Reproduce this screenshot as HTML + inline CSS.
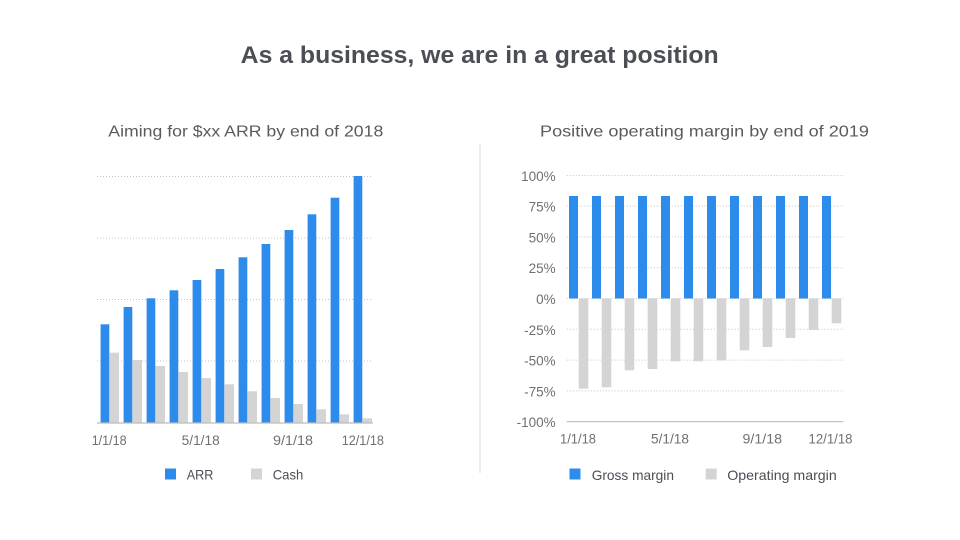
<!DOCTYPE html>
<html><head><meta charset="utf-8"><style>
html,body{margin:0;padding:0;background:#fff;}
svg{display:block;}
text{font-family:"Liberation Sans",sans-serif;}
</style></head><body>
<svg width="960" height="540" viewBox="0 0 960 540" xmlns="http://www.w3.org/2000/svg">
<rect width="960" height="540" fill="#fff"/>
<text x="240.7" y="63" font-size="24" font-weight="bold" fill="#4b4e55" textLength="478" lengthAdjust="spacingAndGlyphs">As a business, we are in a great position</text>
<text x="108.3" y="136.7" font-size="16" fill="#5a5a5a" textLength="275" lengthAdjust="spacingAndGlyphs">Aiming for $xx ARR by end of 2018</text>
<text x="540" y="136.7" font-size="16" fill="#5a5a5a" textLength="329" lengthAdjust="spacingAndGlyphs">Positive operating margin by end of 2019</text>
<line x1="480" y1="144" x2="480" y2="473" stroke="#e6e6e6" stroke-width="1.5"/>

<!-- left chart gridlines -->
<g stroke="#c4c4c4" stroke-width="1" stroke-dasharray="1 2">
<line x1="97" y1="176.5" x2="373" y2="176.5"/>
<line x1="97" y1="238" x2="373" y2="238"/>
<line x1="97" y1="299.5" x2="373" y2="299.5"/>
<line x1="97" y1="361" x2="373" y2="361"/>
</g>
<g fill="#2d8ceb">
<rect x="100.6" y="324.3" width="8.7" height="98.7"/>
<rect x="123.6" y="307" width="8.7" height="116"/>
<rect x="146.6" y="298.3" width="8.7" height="124.7"/>
<rect x="169.6" y="290.3" width="8.7" height="132.7"/>
<rect x="192.6" y="280" width="8.7" height="143"/>
<rect x="215.6" y="269" width="8.7" height="154"/>
<rect x="238.6" y="257.3" width="8.7" height="165.7"/>
<rect x="261.6" y="244" width="8.7" height="179"/>
<rect x="284.6" y="230" width="8.7" height="193"/>
<rect x="307.6" y="214.3" width="8.7" height="208.7"/>
<rect x="330.6" y="197.7" width="8.7" height="225.3"/>
<rect x="353.6" y="176" width="8.7" height="247"/>
</g>
<g fill="#d4d4d4">
<rect x="109.4" y="352.7" width="9.6" height="70.3"/>
<rect x="132.4" y="360" width="9.6" height="63"/>
<rect x="155.4" y="366" width="9.6" height="57"/>
<rect x="178.4" y="372" width="9.6" height="51"/>
<rect x="201.4" y="378" width="9.6" height="45"/>
<rect x="224.4" y="384.3" width="9.6" height="38.7"/>
<rect x="247.4" y="391.3" width="9.6" height="31.7"/>
<rect x="270.4" y="398" width="9.6" height="25"/>
<rect x="293.4" y="404" width="9.6" height="19"/>
<rect x="316.4" y="409.3" width="9.6" height="13.7"/>
<rect x="339.4" y="414.3" width="9.6" height="8.7"/>
<rect x="362.4" y="418.3" width="9.6" height="4.7"/>
</g>
<line x1="97" y1="423" x2="373" y2="423" stroke="#bcbcbc" stroke-width="1.2"/>
<g font-size="13.5" fill="#707070">
<text x="91.7" y="445" textLength="35" lengthAdjust="spacingAndGlyphs">1/1/18</text>
<text x="181.7" y="445" textLength="38" lengthAdjust="spacingAndGlyphs">5/1/18</text>
<text x="273" y="445" textLength="40" lengthAdjust="spacingAndGlyphs">9/1/18</text>
<text x="341.7" y="445" textLength="42.3" lengthAdjust="spacingAndGlyphs">12/1/18</text>
</g>
<rect x="165" y="468.5" width="11" height="11" fill="#2d8ceb"/>
<text x="186.7" y="479.3" font-size="14" fill="#4b4e55" textLength="26.6" lengthAdjust="spacingAndGlyphs">ARR</text>
<rect x="251" y="468.5" width="11" height="11" fill="#d4d4d4"/>
<text x="272.7" y="479.3" font-size="14" fill="#4b4e55" textLength="30.6" lengthAdjust="spacingAndGlyphs">Cash</text>

<!-- right chart -->
<g stroke="#c4c4c4" stroke-width="1" stroke-dasharray="1 2">
<line x1="566.7" y1="175.5" x2="843.3" y2="175.5"/>
<line x1="566.7" y1="206.1" x2="843.3" y2="206.1"/>
<line x1="566.7" y1="236.9" x2="843.3" y2="236.9"/>
<line x1="566.7" y1="267.7" x2="843.3" y2="267.7"/>
<line x1="566.7" y1="298.5" x2="843.3" y2="298.5"/>
<line x1="566.7" y1="329.3" x2="843.3" y2="329.3"/>
<line x1="566.7" y1="360.1" x2="843.3" y2="360.1"/>
<line x1="566.7" y1="390.9" x2="843.3" y2="390.9"/>
</g>
<line x1="566.7" y1="421.7" x2="843.3" y2="421.7" stroke="#bcbcbc" stroke-width="1.2"/>
<g font-size="13.5" fill="#707070" text-anchor="end">
<text x="555.7" y="180.8">100%</text>
<text x="555.7" y="211.6">75%</text>
<text x="555.7" y="242.4">50%</text>
<text x="555.7" y="273.2">25%</text>
<text x="555.7" y="304">0%</text>
<text x="555.7" y="334.8">-25%</text>
<text x="555.7" y="365.6">-50%</text>
<text x="555.7" y="396.4">-75%</text>
<text x="555.7" y="427.2">-100%</text>
</g>
<g fill="#2d8ceb">
<rect x="569" y="196" width="9" height="102.5"/>
<rect x="592" y="196" width="9" height="102.5"/>
<rect x="615" y="196" width="9" height="102.5"/>
<rect x="638" y="196" width="9" height="102.5"/>
<rect x="661" y="196" width="9" height="102.5"/>
<rect x="684" y="196" width="9" height="102.5"/>
<rect x="707" y="196" width="9" height="102.5"/>
<rect x="730" y="196" width="9" height="102.5"/>
<rect x="753" y="196" width="9" height="102.5"/>
<rect x="776" y="196" width="9" height="102.5"/>
<rect x="799" y="196" width="9" height="102.5"/>
<rect x="822" y="196" width="9" height="102.5"/>
</g>
<g fill="#d4d4d4">
<rect x="578.7" y="298.5" width="9.6" height="90.2"/>
<rect x="601.7" y="298.5" width="9.6" height="88.8"/>
<rect x="624.7" y="298.5" width="9.6" height="71.8"/>
<rect x="647.7" y="298.5" width="9.6" height="70.5"/>
<rect x="670.7" y="298.5" width="9.6" height="62.8"/>
<rect x="693.7" y="298.5" width="9.6" height="62.8"/>
<rect x="716.7" y="298.5" width="9.6" height="61.8"/>
<rect x="739.7" y="298.5" width="9.6" height="51.8"/>
<rect x="762.7" y="298.5" width="9.6" height="48.5"/>
<rect x="785.7" y="298.5" width="9.6" height="39.5"/>
<rect x="808.7" y="298.5" width="9.6" height="31.5"/>
<rect x="831.7" y="298.5" width="9.6" height="24.8"/>
</g>
<g font-size="13.5" fill="#707070">
<text x="560" y="443.5" textLength="36" lengthAdjust="spacingAndGlyphs">1/1/18</text>
<text x="651" y="443.5" textLength="38" lengthAdjust="spacingAndGlyphs">5/1/18</text>
<text x="742.5" y="443.5" textLength="39.5" lengthAdjust="spacingAndGlyphs">9/1/18</text>
<text x="808.5" y="443.5" textLength="44" lengthAdjust="spacingAndGlyphs">12/1/18</text>
</g>
<rect x="569.5" y="468.5" width="11" height="11" fill="#2d8ceb"/>
<text x="591.7" y="480" font-size="14" fill="#4b4e55" textLength="82.3" lengthAdjust="spacingAndGlyphs">Gross margin</text>
<rect x="705.7" y="468.5" width="11" height="11" fill="#d4d4d4"/>
<text x="727.3" y="480" font-size="14" fill="#4b4e55" textLength="109.4" lengthAdjust="spacingAndGlyphs">Operating margin</text>
</svg>
</body></html>
